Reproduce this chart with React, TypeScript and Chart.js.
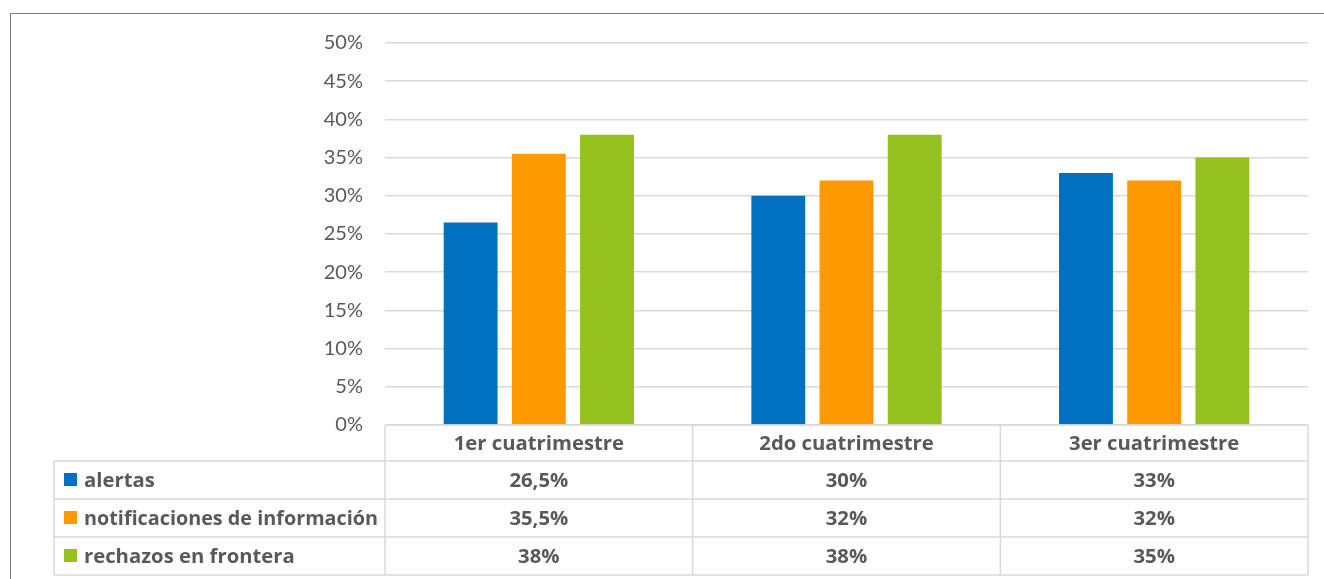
import React, { useEffect, useRef } from 'react';
import { Chart, registerables } from 'chart.js';

Chart.register(...registerables);

const categories = ['1er cuatrimestre', '2do cuatrimestre', '3er cuatrimestre'];
const seriesNames = ['alertas', 'notificaciones de información', 'rechazos en frontera'];
const alertas = [26.5, 30, 33];
const notificaciones = [35.5, 32, 32];
const rechazos = [38, 38, 35];
const seriesColors = ['#0070C0', '#FF9900', '#95C11F'];
const yMax = 50;
const yStep = 5;

const seriesValues = [alertas, notificaciones, rechazos];

const fmt = (v: number) => String(v).replace('.', ',') + '%';

const TEXT = '#595959';
const LINE = '#D9D9D9';

const tablePlugin = {
  id: 'dataTable',
  afterDraw(chart: any) {
    const { ctx, chartArea } = chart;
    const xs = chart.scales.x;
    const left = chartArea.left;
    const right = chartArea.right;
    const n = categories.length;
    const colW = (right - left) / n;
    const headerTop = chartArea.bottom;
    const headerH = 36;
    const rowH = 38;
    const legendLeft = 54;
    const bottom = headerTop + headerH + rowH * seriesNames.length;
    ctx.save();
    ctx.strokeStyle = LINE;
    ctx.lineWidth = 1.5;
    const line = (x1: number, y1: number, x2: number, y2: number) => {
      ctx.beginPath();
      ctx.moveTo(x1, y1);
      ctx.lineTo(x2, y2);
      ctx.stroke();
    };
    for (let i = 0; i <= n; i++) {
      const px = left + i * colW;
      line(px, headerTop, px, bottom);
    }
    line(legendLeft, headerTop + headerH, legendLeft, bottom);
    line(left, headerTop, right, headerTop);
    for (let r = 0; r <= seriesNames.length; r++) {
      const py = headerTop + headerH + r * rowH;
      line(legendLeft, py, right, py);
    }
    ctx.fillStyle = TEXT;
    ctx.font = 'bold 20.3px "Open Sans"';
    ctx.textBaseline = 'middle';
    ctx.textAlign = 'center';
    categories.forEach((c, i) => {
      ctx.fillText(c, xs.getPixelForValue(i), headerTop + headerH / 2 + 1);
    });
    const labelX = legendLeft + 30;
    const labelMax = left - labelX - 7;
    seriesNames.forEach((s, r) => {
      const cy = headerTop + headerH + r * rowH + rowH / 2;
      ctx.fillStyle = seriesColors[r];
      ctx.fillRect(legendLeft + 10, cy - 7, 13, 13);
      ctx.fillStyle = TEXT;
      ctx.textAlign = 'left';
      ctx.fillText(s, labelX, cy + 1, labelMax);
      ctx.textAlign = 'center';
      seriesValues[r].forEach((v, i) => {
        ctx.fillText(fmt(v), xs.getPixelForValue(i), cy + 1);
      });
    });
    ctx.restore();
  },
};

export default function App() {
  const ref = useRef<HTMLCanvasElement>(null);
  useEffect(() => {
    if (!ref.current) return;
    const chart = new Chart(ref.current, {
      type: 'bar',
      data: {
        labels: categories,
        datasets: seriesNames.map((name, i) => ({
          label: name,
          data: seriesValues[i],
          backgroundColor: seriesColors[i],
          categoryPercentage: 0.665,
          barPercentage: 0.79,
        })),
      },
      options: {
        animation: false,
        responsive: true,
        maintainAspectRatio: false,
        layout: { padding: { left: 0, right: 16, top: 43, bottom: 0 } },
        plugins: { legend: { display: false }, tooltip: { enabled: false } },
        scales: {
          x: {
            grid: { display: false },
            border: { display: false },
            ticks: { display: false },
            afterFit: (s: any) => {
              s.height = 154;
            },
          },
          y: {
            min: 0,
            max: yMax,
            border: { display: false },
            grid: { color: LINE, lineWidth: 1.5, drawTicks: false },
            ticks: {
              stepSize: yStep,
              padding: 22,
              color: TEXT,
              font: { family: 'Lato', size: 20 },
              callback: (v: any) => v + '%',
            },
            afterFit: (s: any) => {
              s.width = 385;
            },
          },
        },
      },
      plugins: [tablePlugin],
    });
    return () => chart.destroy();
  }, []);
  return (
    <div style={{ position: 'absolute', left: 0, top: 0, width: 1324, height: 579, background: '#fff' }}>
      <div
        style={{
          position: 'absolute',
          left: 10,
          top: 13,
          right: 0,
          bottom: 0,
          borderTop: '1.5px solid #808080',
          borderLeft: '1.5px solid #808080',
        }}
      />
      <div style={{ position: 'absolute', left: 0, top: 0, width: 1324, height: 579 }}>
        <canvas ref={ref} />
      </div>
    </div>
  );
}
